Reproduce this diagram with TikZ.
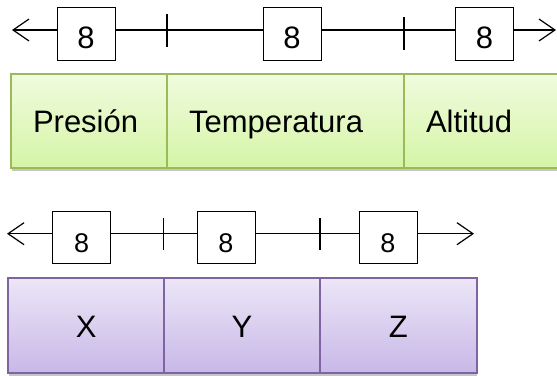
\documentclass[tikz,border=0pt]{standalone}
\usepackage{fontspec}
\setmainfont{Liberation Sans}
\usetikzlibrary{arrows.meta,shadows}
\definecolor{gborder}{RGB}{155,187,89}
\definecolor{gtop}{RGB}{240,251,222}
\definecolor{gbot}{RGB}{213,245,166}
\definecolor{pborder}{RGB}{128,100,162}
\definecolor{ptop}{RGB}{236,230,247}
\definecolor{pbot}{RGB}{200,184,232}
\begin{document}
\begin{tikzpicture}[x=1pt,y=-1pt,
  bitbox/.style={draw=black, line width=1pt, fill=white, inner sep=0pt,
    minimum width=58pt, minimum height=#1, text height=30pt, text depth=0pt,
    font=\fontsize{31}{32}\selectfont},
  bitbox/.default=53pt,
  smallbit/.style={bitbox=52pt, text height=29pt, font=\fontsize{27}{28}\selectfont},
  wire/.style={line width=1.2pt},
  tip/.style={line width=1.2pt, -{Straight Barb[length=16pt,width=22pt,line width=1.2pt]}},
  tickmark/.style={line width=1.2pt},
  field/.style={line width=2pt, anchor=north west, text height=25pt, text depth=2pt,
    drop shadow={shadow xshift=0.5pt, shadow yshift=-3pt, opacity=0.45}},
  fieldG/.style={field, draw=gborder, top color=gtop, bottom color=gbot,
    minimum height=94pt, inner xsep=22pt, align=left,
    font=\fontsize{31}{33}\selectfont},
  fieldP/.style={field, draw=pborder, top color=ptop, bottom color=pbot,
    minimum height=94.4pt, inner xsep=0pt, align=center,
    font=\fontsize{31}{33}\selectfont}
]
\useasboundingbox (0,0) rectangle (557,375);
\clip (0,0) rectangle (557,375);

% ---------- upper record: Presión / Temperatura / Altitud ----------
\coordinate (L1) at (0,30);
\node[bitbox] (a1) at (86,33.7) {8};
\node[bitbox] (a2) at (292,33.7) {8};
\node[bitbox] (a3) at (484.5,33.7) {8};
\coordinate (a0) at (12,30);
\coordinate (a4) at (556,30);
\coordinate (t1a) at (167,14); \coordinate (t1b) at (167,47);
\coordinate (t2a) at (404,17); \coordinate (t2b) at (404,50);

\draw[tip] (a1.west |- L1) -- (a0);
\draw[wire] (a1.east |- L1) -- (a2.west |- L1);
\draw[wire] (a2.east |- L1) -- (a3.west |- L1);
\draw[tip] (a3.east |- L1) -- (a4);
\draw[tickmark] (t1a) -- (t1b);
\draw[tickmark] (t2a) -- (t2b);

\node[fieldG, text width=112pt] (pres) at (10,73) {Presión};
\node[fieldG, text width=193pt] (temp) at (166,73) {Temperatura};
\node[fieldG, text width=116pt] (alt) at (403,73) {Altitud};

% ---------- lower record: X / Y / Z ----------
\coordinate (L2) at (0,233.7);
\node[smallbit] (b1) at (81.7,237.7) {8};
\node[smallbit] (b2) at (226,237.7) {8};
\node[smallbit] (b3) at (388,237.7) {8};
\coordinate (b0) at (7,233.7);
\coordinate (b4) at (474,233.7);
\coordinate (s1a) at (163.3,218); \coordinate (s1b) at (163.3,250);
\coordinate (s2a) at (320,218); \coordinate (s2b) at (320,250);

\draw[tip] (b1.west |- L2) -- (b0);
\draw[wire] (b1.east |- L2) -- (b2.west |- L2);
\draw[wire] (b2.east |- L2) -- (b3.west |- L2);
\draw[tip] (b3.east |- L2) -- (b4);
\draw[tickmark] (s1a) -- (s1b);
\draw[tickmark] (s2a) -- (s2b);

\node[fieldP, text width=155.7pt] (fx) at (7.3,277.3) {X};
\node[fieldP, text width=156pt] (fy) at (163,277.3) {Y};
\node[fieldP, text width=156.7pt] (fz) at (319,277.3) {Z};
\end{tikzpicture}
\end{document}
